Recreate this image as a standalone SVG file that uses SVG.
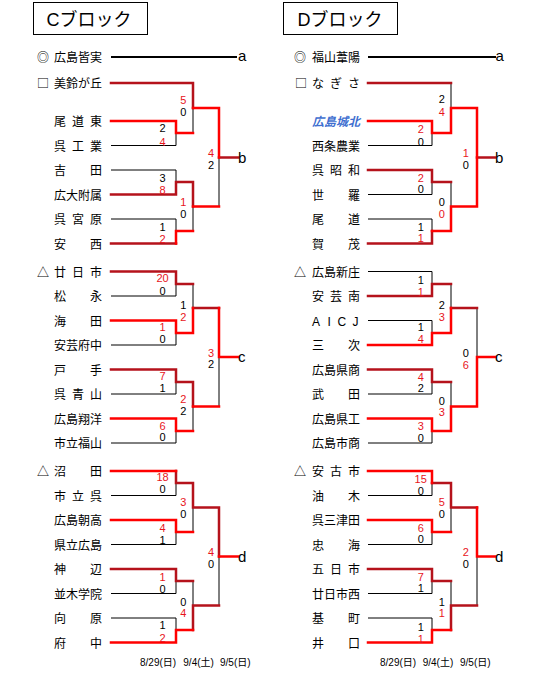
<svg xmlns="http://www.w3.org/2000/svg" width="540" height="681" viewBox="0 0 540 681">
<style>
.k{stroke:#000;stroke-width:1;fill:none}
.k2{stroke:#000;stroke-width:2;fill:none}
.r{stroke:#ff0000;stroke-width:2.5;fill:none;stroke-linecap:square}
.dr{stroke:#b5121b;stroke-width:2.5;fill:none;stroke-linecap:square}
.nm{font-family:"Noto Sans CJK JP","Noto Sans CJK SC",sans-serif;font-size:12px;fill:#000}
.bl{fill:#3f6fd0;font-style:italic;font-weight:bold}
.sc{font-family:"Liberation Sans",Arial,sans-serif;font-size:11px;text-anchor:middle;fill:#000}
.sr{fill:#e8141c}
.lb{font-family:"Liberation Sans",Arial,sans-serif;font-size:15px;fill:#000}
.tt{font-family:"Liberation Sans","Noto Sans CJK JP",sans-serif;font-size:18px;text-anchor:middle;fill:#000}
.dt{font-family:"Liberation Sans","Noto Sans CJK JP",sans-serif;font-size:10px;fill:#000}
.box{fill:#fff;stroke:#000;stroke-width:1}
</style>
<rect width="540" height="681" fill="#fff"/>
<g id="title-C"><rect class="box" x="33.5" y="2.5" width="114" height="32"/><text class="tt" x="89" y="26">Cブロック</text></g>
<g id="title-D"><rect class="box" x="283.5" y="2.5" width="114" height="32"/><text class="tt" x="340" y="26">Dブロック</text></g>

<g id="connectors">
<path class="k2" d="M111 57H237M368 57H496"/>
<path class="k" d="M193 108V133M176 133V145.5M111 145.5H176M219 157.5V206.5M111 170H176V182M193 206.5V231M111 219H176V231M176 284V296M111 296H176M193 284V308M176 333V345M111 345H176M219 357V406.5M176 382V394M111 394H176M193 406.5V431M176 431V443M111 443H176M176 483V495.5M111 495.5H176M193 507.5V532M176 532V544.5M111 544.5H176M219 556.5V605.5M176 581V593.5M111 593.5H176M193 581V605.5M111 618H176V630"/>
<path class="k" d="M451 83V108M432 133V145.5M368 145.5H432M432 182V194.5M368 194.5H432M451 182V206.5M368 219H432V231M368 271.5H432V284M451 284V308M368 320.5H432V333M477 308V357M432 382V394M368 394H432M451 382V406.5M432 431V443M368 443H432M432 483V495.5M368 495.5H432M451 507.5V532M432 532V544.5M368 544.5H432M477 556.5V605.5M432 581V593.5M368 593.5H432M451 581V605.5M368 618H432V630"/>
<path class="dr" d="M111 83H193V108M219 157.5H238M111 194.5H176V182H193V206.5M111 243.5H176M111 271.5H176V284H193M193 308H219M111 369.5H176V382H193V406.5M176 471V483H193V507.5H219V556.5M111 569H176V581H193M193 605.5H219M193 605.5V630"/>
<path class="r" d="M193 108H219V157.5M111 121H176V133H193M193 206.5H219M176 243.5V231H193M111 320.5H176V333H193V308M219 308V357H238M193 406.5H219M111 418.5H176V431H193M111 471H176M111 520H176V532H193M219 556.5H238M111 642.5H176V630H193"/>
<path class="dr" d="M368 83H451M477 157.5H495M368 170H432V182H451M368 243.5H432V231M368 296H432V284H451M451 308H477M368 369.5H432V382H451M432 483H451V507.5H477M368 569H432V581H451M451 605.5H477M451 605.5V630"/>
<path class="r" d="M451 108H477V206.5H451V231M451 108V133H432V121H368M432 231H451M368 345H432V333H451V308M477 357H495M477 357V406.5H451V431H432V418.5H368M368 471H432V483M368 520H432V532H451M477 507.5V556.5H495M368 642.5H432V630H451"/>
</g>

<g id="C-teams">
<g id="c01"><text class="nm" x="37" y="62">◎</text><text class="nm" x="54" y="62">広島皆実</text></g>
<g id="c02"><text class="nm" x="37" y="88">□</text><text class="nm" x="54" y="88">美鈴が丘</text></g>
<g id="c03"><text class="nm" x="54 72 90" y="126">尾道東</text></g>
<g id="c04"><text class="nm" x="54 72 90" y="150.5">呉工業</text></g>
<g id="c05"><text class="nm" x="54 90" y="175">吉田</text></g>
<g id="c06"><text class="nm" x="54" y="199.5">広大附属</text></g>
<g id="c07"><text class="nm" x="54 72 90" y="224">呉宮原</text></g>
<g id="c08"><text class="nm" x="54 90" y="248.5">安西</text></g>
<g id="c09"><text class="nm" x="37" y="276.5">△</text><text class="nm" x="54 72 90" y="276.5">廿日市</text></g>
<g id="c10"><text class="nm" x="54 90" y="301">松永</text></g>
<g id="c11"><text class="nm" x="54 90" y="325.5">海田</text></g>
<g id="c12"><text class="nm" x="54" y="350">安芸府中</text></g>
<g id="c13"><text class="nm" x="54 90" y="374.5">戸手</text></g>
<g id="c14"><text class="nm" x="54 72 90" y="399">呉青山</text></g>
<g id="c15"><text class="nm" x="54" y="423.5">広島翔洋</text></g>
<g id="c16"><text class="nm" x="54" y="448">市立福山</text></g>
<g id="c17"><text class="nm" x="37" y="476">△</text><text class="nm" x="54 90" y="476">沼田</text></g>
<g id="c18"><text class="nm" x="54 72 90" y="500.5">市立呉</text></g>
<g id="c19"><text class="nm" x="54" y="525">広島朝高</text></g>
<g id="c20"><text class="nm" x="54" y="549.5">県立広島</text></g>
<g id="c21"><text class="nm" x="54 90" y="574">神辺</text></g>
<g id="c22"><text class="nm" x="54" y="598.5">並木学院</text></g>
<g id="c23"><text class="nm" x="54 90" y="623">向原</text></g>
<g id="c24"><text class="nm" x="54 90" y="647.5">府中</text></g>
</g>

<g id="D-teams">
<g id="d01"><text class="nm" x="294" y="62">◎</text><text class="nm" x="312" y="62">福山葦陽</text></g>
<g id="d02"><text class="nm" x="295" y="88">□</text><text class="nm" x="312 330 348" y="88">なぎさ</text></g>
<g id="d03"><text class="nm bl" x="312" y="126">広島城北</text></g>
<g id="d04"><text class="nm" x="312" y="150.5">西条農業</text></g>
<g id="d05"><text class="nm" x="312 330 348" y="175">呉昭和</text></g>
<g id="d06"><text class="nm" x="312 348" y="199.5">世羅</text></g>
<g id="d07"><text class="nm" x="312 348" y="224">尾道</text></g>
<g id="d08"><text class="nm" x="312 348" y="248.5">賀茂</text></g>
<g id="d09"><text class="nm" x="294" y="276.5">△</text><text class="nm" x="312" y="276.5">広島新庄</text></g>
<g id="d10"><text class="nm" x="312 330 348" y="301">安芸南</text></g>
<g id="d11"><text class="nm" x="312 327.5 337.5 352.5" y="325.5" style="font-family:'Liberation Sans',Arial,sans-serif">AICJ</text></g>
<g id="d12"><text class="nm" x="312 348" y="350">三次</text></g>
<g id="d13"><text class="nm" x="312" y="374.5">広島県商</text></g>
<g id="d14"><text class="nm" x="312 348" y="399">武田</text></g>
<g id="d15"><text class="nm" x="312" y="423.5">広島県工</text></g>
<g id="d16"><text class="nm" x="312" y="448">広島市商</text></g>
<g id="d17"><text class="nm" x="294" y="476">△</text><text class="nm" x="312 330 348" y="476">安古市</text></g>
<g id="d18"><text class="nm" x="312 348" y="500.5">油木</text></g>
<g id="d19"><text class="nm" x="312" y="525">呉三津田</text></g>
<g id="d20"><text class="nm" x="312 348" y="549.5">忠海</text></g>
<g id="d21"><text class="nm" x="312 330 348" y="574">五日市</text></g>
<g id="d22"><text class="nm" x="312" y="598.5">廿日市西</text></g>
<g id="d23"><text class="nm" x="312 348" y="623">基町</text></g>
<g id="d24"><text class="nm" x="312 348" y="647.5">井口</text></g>
</g>

<g id="slots">
<g id="c-a"><text class="lb" x="238" y="61">a</text></g>
<g id="c-b"><text class="lb" x="238" y="162.5">b</text></g>
<g id="c-c"><text class="lb" x="238" y="362">c</text></g>
<g id="c-d"><text class="lb" x="238" y="561.5">d</text></g>
<g id="d-a"><text class="lb" x="495.5" y="61">a</text></g>
<g id="d-b"><text class="lb" x="495" y="162.5">b</text></g>
<g id="d-c"><text class="lb" x="495" y="362">c</text></g>
<g id="d-d"><text class="lb" x="495" y="561.5">d</text></g>
</g>

<g id="scores-C">
<text class="sc" x="162.5" y="132">2</text><text class="sc sr" x="162.5" y="145.7">4</text>
<text class="sc" x="162.5" y="181.7">3</text><text class="sc sr" x="162.5" y="194">8</text>
<text class="sc" x="162.5" y="230.7">1</text><text class="sc sr" x="162.5" y="243">2</text>
<text class="sc sr" x="162.5" y="282.3">20</text><text class="sc" x="162.5" y="294.7">0</text>
<text class="sc sr" x="162.5" y="330.7">1</text><text class="sc" x="162.5" y="343">0</text>
<text class="sc sr" x="162.5" y="379.7">7</text><text class="sc" x="162.5" y="392.3">1</text>
<text class="sc sr" x="162.5" y="429.7">6</text><text class="sc" x="162.5" y="441.3">0</text>
<text class="sc sr" x="162.5" y="480.7">18</text><text class="sc" x="162.5" y="493.3">0</text>
<text class="sc sr" x="162.5" y="532.3">4</text><text class="sc" x="162.5" y="544">1</text>
<text class="sc sr" x="162.5" y="580.7">1</text><text class="sc" x="162.5" y="593.3">0</text>
<text class="sc" x="162.5" y="629">1</text><text class="sc sr" x="162.5" y="642.3">2</text>
<text class="sc sr" x="183.3" y="104">5</text><text class="sc" x="183.3" y="116.3">0</text>
<text class="sc sr" x="183.3" y="206.3">1</text><text class="sc" x="183.3" y="218.3">0</text>
<text class="sc" x="183.3" y="309">1</text><text class="sc sr" x="183.3" y="320.7">2</text>
<text class="sc sr" x="183.3" y="403.3">2</text><text class="sc" x="183.3" y="415">2</text>
<text class="sc sr" x="183.3" y="506.3">3</text><text class="sc" x="183.3" y="518.3">0</text>
<text class="sc" x="183.3" y="605.7">0</text><text class="sc sr" x="183.3" y="617.3">4</text>
<text class="sc sr" x="211" y="157.3">4</text><text class="sc" x="211" y="169">2</text>
<text class="sc sr" x="211" y="356.7">3</text><text class="sc" x="211" y="368.3">2</text>
<text class="sc sr" x="211" y="555.7">4</text><text class="sc" x="211" y="568.3">0</text>
</g>

<g id="scores-D">
<text class="sc sr" x="420.7" y="133">2</text><text class="sc" x="420.7" y="145.7">0</text>
<text class="sc sr" x="420.7" y="181.7">2</text><text class="sc" x="420.7" y="193.3">0</text>
<text class="sc" x="420.7" y="230.7">1</text><text class="sc sr" x="420.7" y="242.3">1</text>
<text class="sc" x="420.7" y="284">1</text><text class="sc sr" x="420.7" y="295.7">1</text>
<text class="sc" x="420.7" y="330.7">1</text><text class="sc sr" x="420.7" y="343.3">4</text>
<text class="sc sr" x="420.7" y="380.7">4</text><text class="sc" x="420.7" y="392.3">2</text>
<text class="sc sr" x="420.7" y="430">3</text><text class="sc" x="420.7" y="441.7">0</text>
<text class="sc sr" x="420.7" y="483">15</text><text class="sc" x="420.7" y="494.7">0</text>
<text class="sc sr" x="420.7" y="532.3">6</text><text class="sc" x="420.7" y="543.3">0</text>
<text class="sc sr" x="420.7" y="580.7">7</text><text class="sc" x="420.7" y="592.3">1</text>
<text class="sc" x="420.7" y="630.7">1</text><text class="sc sr" x="420.7" y="643.3">1</text>
<text class="sc" x="441.7" y="103.3">2</text><text class="sc sr" x="441.7" y="116.3">4</text>
<text class="sc" x="441.7" y="205.7">0</text><text class="sc sr" x="441.7" y="218.3">0</text>
<text class="sc" x="441.7" y="309">2</text><text class="sc sr" x="441.7" y="320.7">3</text>
<text class="sc" x="441.7" y="404.7">0</text><text class="sc sr" x="441.7" y="416.3">3</text>
<text class="sc sr" x="441.7" y="506.3">5</text><text class="sc" x="441.7" y="518.3">0</text>
<text class="sc" x="441.7" y="606.3">1</text><text class="sc sr" x="441.7" y="617.3">1</text>
<text class="sc sr" x="465.7" y="157.3">1</text><text class="sc" x="465.7" y="169">0</text>
<text class="sc" x="465.7" y="356.7">0</text><text class="sc sr" x="465.7" y="369">6</text>
<text class="sc sr" x="465.7" y="555.7">2</text><text class="sc" x="465.7" y="568.3">0</text>
</g>

<g id="dates">
<text class="dt" x="140" y="665.5">8/29(日)</text><text class="dt" x="183.3" y="665.5">9/4(土)</text><text class="dt" x="220" y="665.5">9/5(日)</text>
<text class="dt" x="380" y="665.5">8/29(日)</text><text class="dt" x="422.7" y="665.5">9/4(土)</text><text class="dt" x="460" y="665.5">9/5(日)</text>
</g>
</svg>
